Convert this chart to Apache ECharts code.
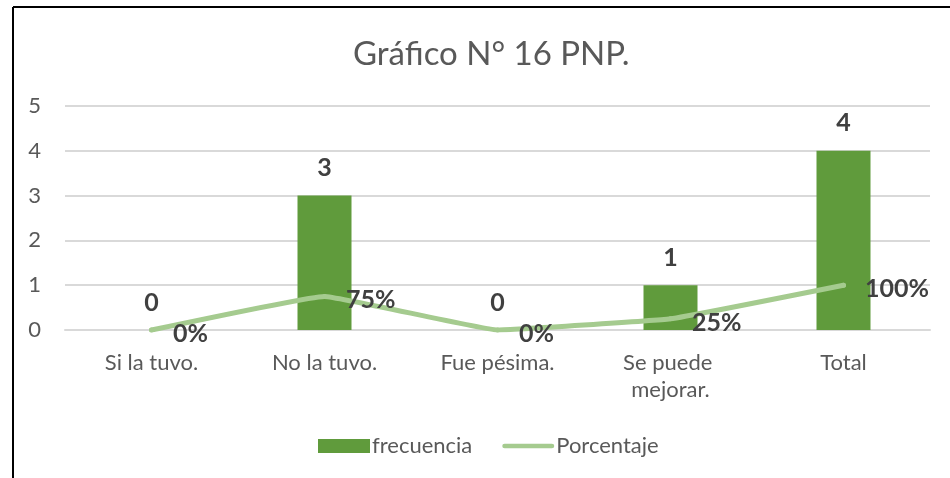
<!DOCTYPE html>
<html>
<head>
<meta charset="utf-8">
<script src="https://cdn.jsdelivr.net/npm/echarts@6/dist/echarts.min.js"></script>
<style>
  html, body { margin: 0; padding: 0; background: #fff; }
  #chart { width: 950px; height: 478px; }
</style>
</head>
<body>
<div id="chart"></div>
<script>
var categories = ['Si la tuvo.', 'No la tuvo.', 'Fue pésima.', 'Se puede mejorar.', 'Total']
var frecuencia = [0, 3, 0, 1, 4]
var porcentaje = [0, 0.75, 0, 0.25, 1]
var yTicks = [0, 1, 2, 3, 4, 5]

var textColor = '#595959'
var font = 'Lato, "Open Sans", sans-serif'

var chart = echarts.init(document.getElementById('chart'))
var option = {
  animation: false,
  color: ['#609b3c', '#a5cb8f'],
  title: {
    text: 'Gráfico N° 16 PNP.',
    left: 348,
    top: 33,
    textStyle: { color: textColor, fontSize: 33, fontWeight: 'normal', fontFamily: font }
  },
  legend: {
    bottom: 16,
    left: 313,
    itemWidth: 52,
    itemHeight: 14,
    itemGap: 30,
    textStyle: { color: textColor, fontSize: 22, fontFamily: font, padding: [0, 0, 0, -3] },
    data: [
      { name: 'frecuencia', icon: 'rect' },
      { name: 'Porcentaje', icon: 'path://M2.5,0 L53.5,0 A2.5,2.5 0 0 1 53.5,5 L2.5,5 A2.5,2.5 0 0 1 2.5,0 Z' }
    ]
  },
  grid: { left: 65, right: 20, top: 106, bottom: 148 },
  xAxis: {
    type: 'category',
    data: categories,
    axisLine: { lineStyle: { color: '#d9d9d9', width: 2 } },
    axisTick: { show: false },
    axisLabel: {
      color: textColor,
      fontSize: 22,
      fontFamily: font,
      margin: 19,
      lineHeight: 27,
      width: 130,
      overflow: 'break',
      interval: 0
    }
  },
  yAxis: {
    type: 'value',
    min: yTicks[0],
    max: yTicks[yTicks.length - 1],
    interval: 1,
    axisLine: { show: false },
    axisTick: { show: false },
    axisLabel: { color: textColor, fontSize: 22, fontFamily: font, margin: 24 },
    splitLine: { lineStyle: { color: '#d9d9d9', width: 2 } }
  },
  series: [
    {
      name: 'frecuencia',
      type: 'bar',
      data: frecuencia,
      barWidth: 54,
      label: {
        show: true,
        position: 'top',
        distance: 15,
        color: '#404040',
        fontSize: 25,
        fontWeight: 'bold',
        fontFamily: font
      }
    },
    {
      name: 'Porcentaje',
      type: 'line',
      data: porcentaje,
      smooth: 0.08,
      symbol: 'circle',
      symbolSize: 5,
      lineStyle: { width: 5, cap: 'round' },
      label: {
        show: true,
        position: 'right',
        distance: 19,
        offset: [0, 4],
        color: '#404040',
        fontSize: 25,
        fontWeight: 'bold',
        fontFamily: font,
        formatter: function (p) { return Math.round(p.value * 100) + '%' }
      },
      z: 3
    }
  ],
  graphic: [
    { type: 'line', shape: { x1: 13, y1: 7, x2: 950, y2: 7 }, style: { stroke: '#000', lineWidth: 2 } },
    { type: 'line', shape: { x1: 13, y1: 7, x2: 13, y2: 478 }, style: { stroke: '#000', lineWidth: 2 } }
  ]
}
chart.setOption(option)
</script>
</body>
</html>
